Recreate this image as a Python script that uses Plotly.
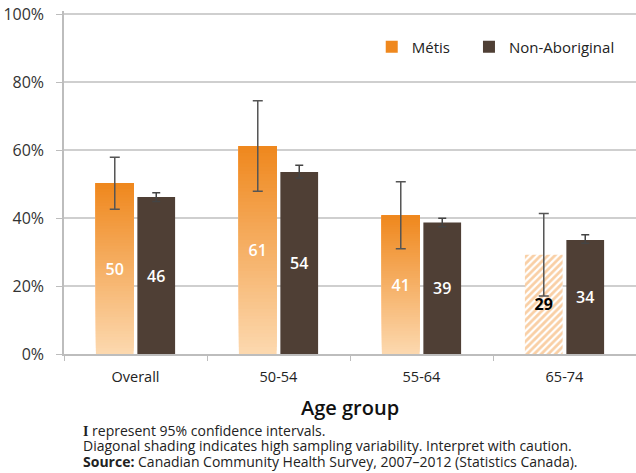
import plotly.graph_objects as go

categories = ["Overall", "50-54", "55-64", "65-74"]
metis = [50.3, 61.2, 40.8, 29.2]
metis_lo = [42.6, 47.9, 31.0, 17.1]
metis_hi = [57.9, 74.6, 50.7, 41.4]
metis_labels = ["50", "61", "41", "<b>29</b>"]
metis_caution = [False, False, False, True]
nonab = [46.2, 53.6, 38.7, 33.6]
nonab_lo = [44.9, 51.8, 37.5, 32.6]
nonab_hi = [47.5, 55.6, 40.0, 35.1]
nonab_labels = ["46", "54", "39", "34"]
y_ticks = [0, 20, 40, 60, 80, 100]
footnotes = [
    "<span style=\"font-family:'Liberation Serif'\"><b>I</b></span> represent 95% confidence intervals.",
    "Diagonal shading indicates high sampling variability. Interpret with caution.",
    "<b>Source:</b> Canadian Community Health Survey, 2007–2012 (Statistics Canada).",
]

FONT = "'Open Sans', Lato, sans-serif"
ORANGE_TOP = (239, 136, 30)
ORANGE_BOT = (252, 216, 174)
BROWN = "#4f3f35"

fig = go.Figure()

# gradient fill for Métis bars: overlapping segments, each from its base to the bar top
N = 60
solid_x = [c for c, f in zip(categories, metis_caution) if not f]
solid_v = [v for v, f in zip(metis, metis_caution) if not f]
for k in range(N):
    t = k / (N - 1)
    col = tuple(round(ORANGE_BOT[i] + (ORANGE_TOP[i] - ORANGE_BOT[i]) * t) for i in range(3))
    last = (k == N - 1)
    fig.add_trace(go.Bar(
        x=solid_x, y=[v * (N - k) / N for v in solid_v],
        base=[v * k / N for v in solid_v],
        offsetgroup="m", name="Métis", legend="legend",
        marker=dict(color="rgb(%d,%d,%d)" % col, line=dict(width=0)),
        showlegend=last, hoverinfo="skip"))

# hatched bars (high sampling variability)
hat_x = [c for c, f in zip(categories, metis_caution) if f]
hat_v = [v for v, f in zip(metis, metis_caution) if f]
fig.add_trace(go.Bar(
    x=hat_x, y=hat_v, offsetgroup="m",
    marker=dict(color="white", line=dict(width=0),
                pattern=dict(shape="/", fgcolor="#f4a04c", size=5, solidity=0.55)),
    showlegend=False, hoverinfo="skip"))

# transparent overlay with error bars and labels
fig.add_trace(go.Bar(
    x=categories, y=metis, offsetgroup="m",
    marker=dict(color="rgba(0,0,0,0)", line=dict(width=0)),
    error_y=dict(type="data", symmetric=False,
                 array=[h - v for h, v in zip(metis_hi, metis)],
                 arrayminus=[v - l for v, l in zip(metis, metis_lo)],
                 color="#555555", thickness=1.5, width=5),
    text=metis_labels, textposition="inside", insidetextanchor="middle",
    textfont=dict(family=FONT, size=16, weight=600,
                  color=["black" if f else "white" for f in metis_caution]),
    showlegend=False, hoverinfo="skip"))

fig.add_trace(go.Bar(
    x=categories, y=nonab, name="Non-Aboriginal", offsetgroup="n", legend="legend2",
    marker=dict(color=BROWN, line=dict(width=0)),
    error_y=dict(type="data", symmetric=False,
                 array=[h - v for h, v in zip(nonab_hi, nonab)],
                 arrayminus=[v - l for v, l in zip(nonab, nonab_lo)],
                 color="#444444", thickness=1.5, width=4),
    text=nonab_labels, textposition="inside", insidetextanchor="middle",
    textfont=dict(family=FONT, size=16, weight=600, color="white"),
    hoverinfo="skip"))

annotations = [
    dict(text="Age group", xref="paper", yref="paper", x=0.5, y=-0.156,
         xanchor="center", yanchor="middle", showarrow=False,
         font=dict(size=20, color="#111111", weight=600)),
]
for i, line in enumerate(footnotes):
    annotations.append(dict(text=line, xref="paper", yref="paper", x=0.03,
                            y=-0.222 - i * 0.045, xanchor="left", yanchor="middle",
                            align="left", showarrow=False,
                            font=dict(size=14, color="#222222")))

legend_style = dict(orientation="h", y=0.895, xanchor="left", yanchor="middle",
                    font=dict(size=15, color="#222222"), bgcolor="rgba(0,0,0,0)")

fig.update_layout(
    width=636, height=473,
    margin=dict(l=64, r=0, t=11, b=119),
    paper_bgcolor="white", plot_bgcolor="white",
    barmode="group", bargap=0.42, bargroupgap=0.09,
    font=dict(family=FONT, color="#333333"),
    legend=dict(x=0.538, **legend_style),
    legend2=dict(x=0.708, **legend_style),
    xaxis=dict(type="category", categoryorder="array", categoryarray=categories,
               showline=True, linecolor="#bdbdbd", linewidth=1.5, automargin=False,
               ticks="outside", tickson="boundaries", ticklen=5, tickcolor="#bdbdbd",
               ticklabelstandoff=9,
               tickfont=dict(size=14.5, color="#222222")),
    yaxis=dict(range=[0, 101], tickvals=y_ticks, ticktext=[f"{t}%" for t in y_ticks],
               showgrid=True, gridcolor="#cfcfcf", gridwidth=1.5, automargin=False,
               showline=True, linecolor="#bdbdbd", linewidth=1.5,
               ticks="outside", ticklen=6, tickcolor="#bdbdbd", ticklabelstandoff=9,
               ticklabeloverflow="allow",
               tickfont=dict(size=16, color="#333333"), zeroline=False),
    annotations=annotations,
)

fig.write_html("out.html", config={"displayModeBar": False},
               post_script="document.body.style.margin='0';document.body.style.overflow='hidden';")
